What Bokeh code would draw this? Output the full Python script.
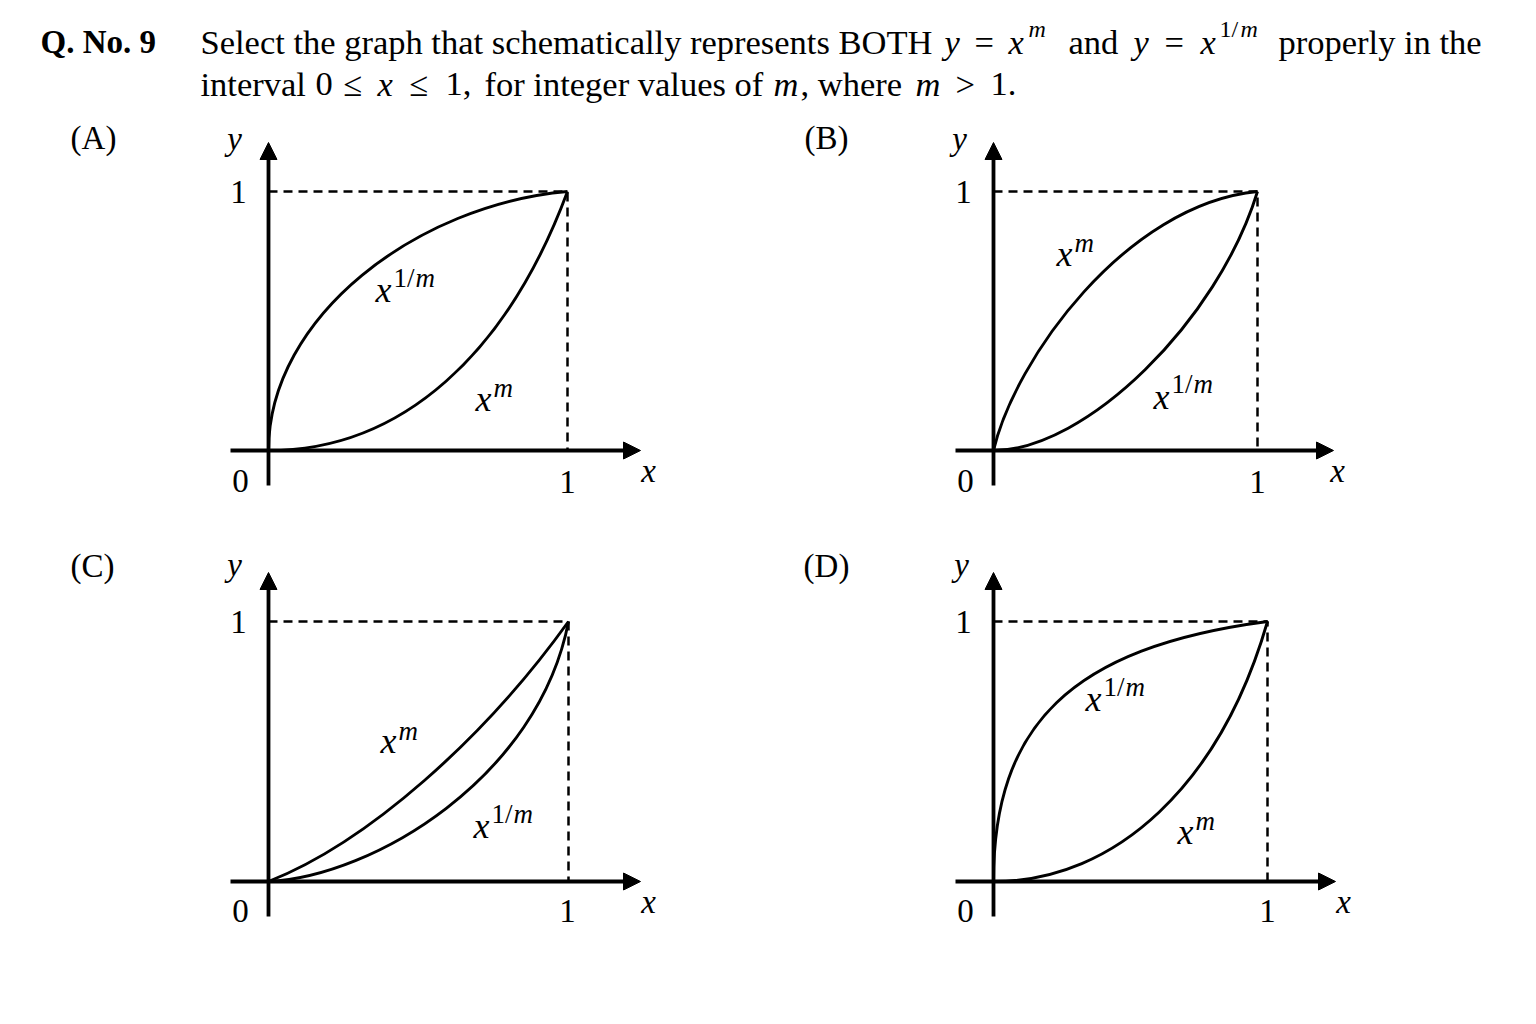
from bokeh.plotting import figure
from bokeh.models import Range1d, Arrow, NormalHead, ColumnDataSource
from bokeh.layouts import column, row
from bokeh.embed import file_html
from bokeh.resources import INLINE
from bokeh.core.properties import value

# ------------------------------------------------------------------ data
panel_names = ["(A)", "(B)", "(C)", "(D)"]
tick_zero = "0"
tick_one = "1"
axis_x_name = "x"
axis_y_name = "y"

# every curve runs from (0, 0) to (1, 1); cubic Bezier control points
curve_x0, curve_y0 = 0.0, 0.0
curve_x1, curve_y1 = 1.0, 1.0
upper_cx0 = [0.00, 0.08, 0.33, 0.00]
upper_cy0 = [0.52, 0.35, 0.15, 0.60]
upper_cx1 = [0.50, 0.50, 0.72, 0.28]
upper_cy1 = [0.95, 0.95, 0.55, 0.90]
lower_cx0 = [0.45, 0.35, 0.35, 0.45]
lower_cy0 = [0.00, 0.00, 0.02, 0.00]
lower_cx1 = [0.80, 0.85, 0.90, 0.83]
lower_cy1 = [0.38, 0.50, 0.40, 0.38]

# curve labels: base + superscript
upper_base = ["x", "x", "x", "x"]
upper_sup = ["1/m", "m", "m", "1/m"]
lower_base = ["x", "x", "x", "x"]
lower_sup = ["m", "1/m", "1/m", "m"]

# question text (segments)
hdr_text = ["Q. No. 9", "Select the graph that schematically represents BOTH", "y", "=", "x", "m",
            "and", "y", "=", "x", "1/", "m", "properly in the",
            "interval", "0", "\u2264", "x", "\u2264", "1,", "for integer values of", "m", ", where",
            "m", ">", "1."]

# ------------------------------------------------------------------ layout
SERIF = value("Liberation Serif")
hdr_x = [40, 200, 944, 974, 1008, 1028, 1068, 1133, 1164, 1200, 1219, 1240, 1278,
         200, 315, 343, 377, 409, 445, 484, 773, 800, 915, 955, 990]
hdr_y = [41, 41, 41, 41, 41, 28, 41, 41, 41, 41, 28, 28, 41,
         83, 83, 83, 83, 83, 83, 83, 83, 83, 83, 83, 83]
hdr_style = ["bold", "normal", "italic", "normal", "italic", "italic", "normal", "italic", "normal",
             "italic", "normal", "italic", "normal",
             "normal", "normal", "normal", "italic", "normal", "normal", "normal", "italic", "normal",
             "italic", "normal", "normal"]
BIG, SUP = "34.5px", "24px"
hdr_size = ["33px", BIG, BIG, BIG, BIG, SUP, BIG, BIG, BIG, BIG, SUP, SUP, BIG,
            BIG, BIG, BIG, BIG, BIG, BIG, BIG, BIG, BIG, BIG, BIG, BIG]

PAGE_W = 1520
HDR_H = 116
PW, PH = 725, 430
# per panel: origin (page px), point (1, 1) (page px), figure top-left (page px)
ORIGIN = [(268, 450), (993, 450), (268, 881), (993, 881)]
ONE = [(567, 191), (1257, 191), (568, 621), (1267, 621)]
FIGPOS = [(0, 116), (725, 116), (0, 546), (725, 546)]
XAX_END = [640, 1333, 640, 1335]      # page x of x-axis arrow tip
YAX_TOP = [142, 142, 572, 572]        # page y of y-axis arrow tip
AX_LEFT = 38                          # px left of origin
AX_BOTTOM = 35                        # px below origin
# text positions (page px)
POS_ZERO = [(240, 480), (965, 480), (240, 910), (965, 910)]
POS_XONE = [(567, 481), (1257, 481), (567, 910), (1267, 910)]
POS_YONE = [(238, 191), (963, 191), (238, 621), (963, 621)]
POS_XNAME = [(648, 470), (1337, 470), (648, 901), (1343, 901)]
POS_YNAME = [(234, 138), (959, 138), (234, 564), (961, 564)]
POS_PANEL = [(93, 137), (826, 137), (92, 565), (826, 565)]
# curve labels: junction x, base baseline, superscript baseline
UP_LAB = [(391, 289, 277), (1072, 253, 242), (396, 740, 730), (1101, 698, 686)]
LO_LAB = [(491, 398, 387), (1169, 396, 383), (489, 825, 813), (1193, 831, 820)]

# ------------------------------------------------------------------ header
hdr = figure(width=PAGE_W, height=HDR_H, x_range=Range1d(0, PAGE_W), y_range=Range1d(HDR_H, 0),
             output_backend="svg", toolbar_location=None, min_border=0, outline_line_color=None,
             x_axis_location=None, y_axis_location=None)
hdr.grid.visible = False
hsrc = ColumnDataSource(dict(x=hdr_x, y=hdr_y, text=hdr_text, style=hdr_style, size=hdr_size))
hdr.text(x="x", y="y", text="text", source=hsrc, text_font=SERIF, text_font_style="style",
         text_font_size="size", text_align="left", text_baseline="alphabetic", text_color="black")


def make_panel(i):
    ox, oy = ORIGIN[i]
    ux = ONE[i][0] - ox
    uy = oy - ONE[i][1]
    L, T = FIGPOS[i]

    def dx(px):
        return (px - ox) / ux

    def dy(py):
        return (oy - py) / uy

    p = figure(width=PW, height=PH, x_range=Range1d(dx(L), dx(L + PW)), y_range=Range1d(dy(T + PH), dy(T)),
               output_backend="svg", toolbar_location=None, min_border=0, outline_line_color=None,
               x_axis_location=None, y_axis_location=None)
    p.grid.visible = False

    # dashed guides to (1, 1)
    p.line(x=[0, curve_x1, curve_x1], y=[curve_y1, curve_y1, 0], line_color="black",
           line_width=2.5, line_dash="9 6")

    # curves
    p.bezier(x0=[curve_x0], y0=[curve_y0], x1=[curve_x1], y1=[curve_y1],
             cx0=[upper_cx0[i]], cy0=[upper_cy0[i]], cx1=[upper_cx1[i]], cy1=[upper_cy1[i]],
             line_color="black", line_width=2.9)
    p.bezier(x0=[curve_x0], y0=[curve_y0], x1=[curve_x1], y1=[curve_y1],
             cx0=[lower_cx0[i]], cy0=[lower_cy0[i]], cx1=[lower_cx1[i]], cy1=[lower_cy1[i]],
             line_color="black", line_width=2.9)

    # axes with arrows
    p.add_layout(Arrow(end=NormalHead(size=17, fill_color="black", line_color="black", line_width=1),
                       x_start=dx(ox - AX_LEFT), y_start=0, x_end=dx(XAX_END[i]), y_end=0,
                       line_color="black", line_width=3.8))
    p.add_layout(Arrow(end=NormalHead(size=17, fill_color="black", line_color="black", line_width=1),
                       x_start=0, y_start=dy(oy + AX_BOTTOM), x_end=0, y_end=dy(YAX_TOP[i]),
                       line_color="black", line_width=3.8))

    # tick / axis labels
    txt = [tick_zero, tick_one, tick_one, axis_x_name, axis_y_name, panel_names[i]]
    pos = [POS_ZERO[i], POS_XONE[i], POS_YONE[i], POS_XNAME[i], POS_YNAME[i], POS_PANEL[i]]
    sty = ["normal", "normal", "normal", "italic", "italic", "normal"]
    src = ColumnDataSource(dict(x=[dx(a) for a, b in pos], y=[dy(b) for a, b in pos], text=txt, style=sty))
    p.text(x="x", y="y", text="text", source=src, text_font=SERIF, text_font_style="style",
           text_font_size="33px", text_align="center", text_baseline="middle", text_color="black")

    # curve labels
    for base, sup, (jx, by, sy) in [(upper_base[i], upper_sup[i], UP_LAB[i]), (lower_base[i], lower_sup[i], LO_LAB[i])]:
        p.text(x=[dx(jx)], y=[dy(by)], text=[base], text_font=SERIF, text_font_style="italic",
               text_font_size="36px", text_align="right", text_baseline="alphabetic", text_color="black")
        if sup.startswith("1/"):
            p.text(x=[dx(jx + 2)], y=[dy(sy)], text=["1/"], text_font=SERIF, text_font_style="normal",
                   text_font_size="27px", text_align="left", text_baseline="alphabetic", text_color="black")
            p.text(x=[dx(jx + 24)], y=[dy(sy)], text=[sup[2:]], text_font=SERIF, text_font_style="italic",
                   text_font_size="27px", text_align="left", text_baseline="alphabetic", text_color="black")
        else:
            p.text(x=[dx(jx + 2)], y=[dy(sy)], text=[sup], text_font=SERIF, text_font_style="italic",
                   text_font_size="27px", text_align="left", text_baseline="alphabetic", text_color="black")
    return p


panels = [make_panel(i) for i in range(4)]
layout = column(hdr, row(panels[0], panels[1]), row(panels[2], panels[3]))

open("out.html", "w").write(file_html(layout, INLINE))
